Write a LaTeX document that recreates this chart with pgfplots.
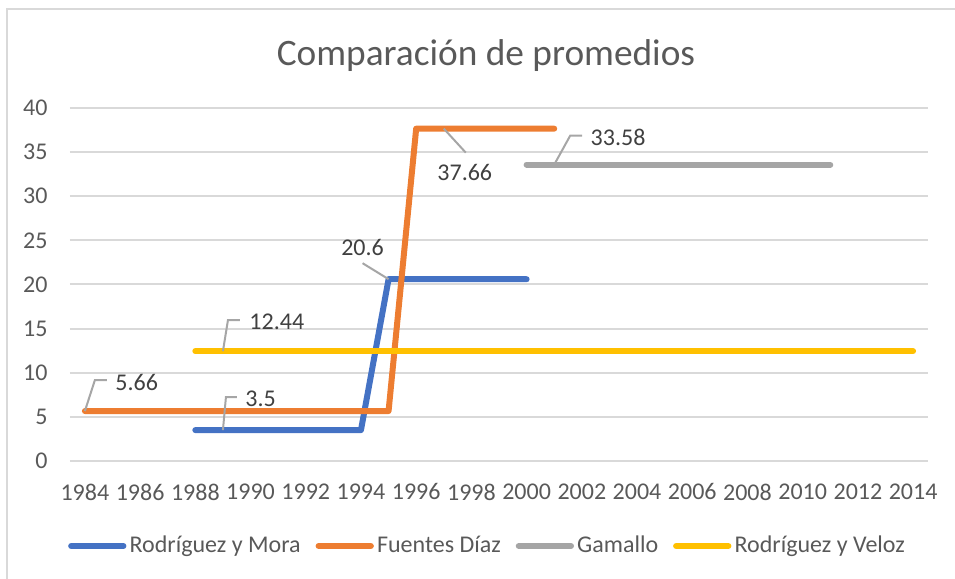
\documentclass[border=0pt]{standalone}
\usepackage{pgfplots}
\pgfplotsset{compat=1.18}
\usepackage{fontspec}
\setmainfont{Carlito}
\definecolor{cblue}{HTML}{4472C4}
\definecolor{corange}{HTML}{ED7D31}
\definecolor{cgray}{HTML}{A5A5A5}
\definecolor{cyellow}{HTML}{FFC000}
\definecolor{cgrid}{HTML}{D9D9D9}
\definecolor{ctick}{HTML}{595959}
\definecolor{clabel}{HTML}{404040}
\definecolor{clead}{HTML}{A6A6A6}
\begin{document}
\begin{tikzpicture}
\useasboundingbox (0,0) rectangle (358.125pt,-217.125pt);
\draw[cgrid, line width=0.75pt] (2.44pt,-3.56pt) rectangle (370pt,-230pt);
\begin{axis}[
  at={(26.25pt,-172.875pt)}, anchor=south west,
  scale only axis, width=321.75pt, height=132.375pt,
  xmin=1983.46, xmax=2014.54, ymin=0, ymax=40,
  xtick={1984,1986,...,2014}, ytick={0,5,...,40},
  /pgf/number format/assume math mode=true,
  /pgf/number format/1000 sep={},
  axis line style={draw=none},
  major tick length=0pt,
  ymajorgrids, grid style={cgrid, line width=0.75pt},
  tick label style={font=\fontsize{9pt}{11pt}\selectfont, text=ctick, inner sep=0pt},
  xticklabel style={anchor=center, yshift=-11.6pt},
  yticklabel style={anchor=east, xshift=-8.25pt},
  every axis title shift=0pt,
  title={Comparación de promedios},
  title style={at={(0.4848,1.150)}, anchor=center, font=\fontsize{14pt}{17pt}\selectfont, text=ctick, inner sep=0pt},
  legend columns=4,
  legend style={at={(0.4854,-0.2408)}, anchor=center, draw=none, fill=none,
    font=\fontsize{9pt}{11pt}\selectfont, text=ctick,
    nodes={inner sep=0pt},
    /tikz/every odd column/.append style={column sep=1.2pt},
    /tikz/every even column/.append style={column sep=5.6pt},
    inner sep=0pt, row sep=0pt},
  legend image code/.code={\path (0pt,0pt) -- (19.6pt,0pt); \draw[line width=2.25pt, line cap=round] (1.125pt,0pt) -- (18.475pt,0pt);},
  every axis plot/.append style={line width=2.25pt, line cap=round, line join=round, mark=none},
  clip=false,
]
\addplot[cblue] coordinates {(1988,3.5)(1989,3.5)(1990,3.5)(1991,3.5)(1992,3.5)(1993,3.5)(1994,3.5)(1995,20.6)(1996,20.6)(1997,20.6)(1998,20.6)(1999,20.6)(2000,20.6)};
\addlegendentry{Rodríguez y Mora}
\addplot[corange] coordinates {(1984,5.66)(1985,5.66)(1986,5.66)(1987,5.66)(1988,5.66)(1989,5.66)(1990,5.66)(1991,5.66)(1992,5.66)(1993,5.66)(1994,5.66)(1995,5.66)(1996,37.66)(1997,37.66)(1998,37.66)(1999,37.66)(2000,37.66)(2001,37.66)};
\addlegendentry{Fuentes Díaz}
\addplot[cgray] coordinates {(2000,33.58)(2001,33.58)(2002,33.58)(2003,33.58)(2004,33.58)(2005,33.58)(2006,33.58)(2007,33.58)(2008,33.58)(2009,33.58)(2010,33.58)(2011,33.58)};
\addlegendentry{Gamallo}
\addplot[cyellow] coordinates {(1988,12.44)(1989,12.44)(1990,12.44)(1991,12.44)(1992,12.44)(1993,12.44)(1994,12.44)(1995,12.44)(1996,12.44)(1997,12.44)(1998,12.44)(1999,12.44)(2000,12.44)(2001,12.44)(2002,12.44)(2003,12.44)(2004,12.44)(2005,12.44)(2006,12.44)(2007,12.44)(2008,12.44)(2009,12.44)(2010,12.44)(2011,12.44)(2012,12.44)(2013,12.44)(2014,12.44)};
\addlegendentry{Rodríguez y Veloz}
% data labels with leader lines
\tikzset{lead/.style={clead, line width=0.75pt}, lbl/.style={font=\fontsize{9pt}{11pt}\selectfont, text=clabel, inner sep=0pt}}
\draw[lead] (axis cs:1984,5.66) -- ++(3.75pt,11.625pt) -- ++(4.5pt,0pt);
\node[lbl, anchor=west] at ([shift={(11.25pt,10.875pt)}]axis cs:1984,5.66) {5.66};
\draw[lead] (axis cs:1989,3.5) -- ++(1.125pt,12.375pt) -- ++(4.125pt,0pt);
\node[lbl, anchor=west] at ([shift={(8.25pt,11.625pt)}]axis cs:1989,3.5) {3.5};
\draw[lead] (axis cs:1989,12.44) -- ++(1.875pt,11.625pt) -- ++(4.5pt,0pt);
\node[lbl, anchor=west] at ([shift={(9.75pt,10.875pt)}]axis cs:1989,12.44) {12.44};
\draw[lead] (axis cs:1995,20.6) -- ++(-9.75pt,6pt);
\node[lbl, anchor=center] at ([shift={(-9.75pt,12pt)}]axis cs:1995,20.6) {20.6};
\draw[lead] (axis cs:1997,37.66) -- ++(8.25pt,-9pt);
\node[lbl, anchor=center] at ([shift={(7.875pt,-16.5pt)}]axis cs:1997,37.66) {37.66};
\draw[lead] (axis cs:2001,33.58) -- ++(6pt,10.875pt) -- ++(4.5pt,0pt);
\node[lbl, anchor=west] at ([shift={(13.5pt,10.125pt)}]axis cs:2001,33.58) {33.58};
\end{axis}
\end{tikzpicture}
\end{document}
